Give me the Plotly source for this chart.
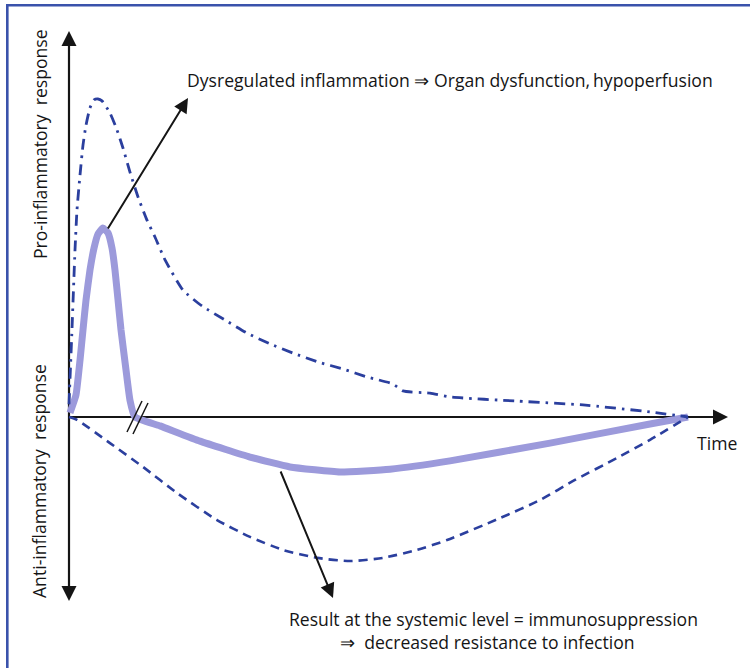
import plotly.graph_objects as go

# ---------------- data (time units: 0 = onset, 100 = resolution; response units: 0 = baseline) ----------------
# Pro-inflammatory response (dash-dot curve)
pro_time = [0.0, 0.48, 0.97, 1.29, 1.78, 2.26, 2.75, 3.39, 4.04, 4.68, 5.33, 6.62, 7.75, 8.72, 9.85,
            11.15, 12.60, 13.89, 15.51, 18.42, 21.49, 25.20, 28.76, 32.47, 36.19, 40.23, 44.26,
            48.14, 52.34, 53.96, 58.32, 61.55, 72.37, 83.04, 93.86, 100.0]
pro_resp = [4.0, 27.4, 52.5, 65.1, 76.1, 85.5, 91.8, 97.2, 99.7, 100.0, 99.4, 95.6, 90.3, 84.6, 77.0,
            69.2, 61.9, 56.6, 49.4, 39.9, 34.9, 30.5, 26.4, 23.0, 20.1, 17.3, 15.1,
            12.6, 10.4, 8.2, 7.5, 6.3, 5.0, 3.8, 1.6, 0.0]

# Net response (thick lavender curve)
net_time = [0.16, 1.13, 1.78, 2.26, 2.75, 3.39, 4.04, 4.68, 5.49, 6.30, 6.95, 7.43, 7.92, 8.40, 9.21,
            9.85, 10.66, 14.70, 21.16, 29.24, 35.70, 43.78, 51.86, 61.55, 77.71, 93.86, 100.0]
net_resp = [1.3, 6.9, 17.9, 27.4, 36.8, 46.2, 53.1, 57.5, 59.4, 57.9, 53.1, 46.2, 36.8, 27.4, 14.8,
            5.3, 0.0, -2.8, -7.6, -12.6, -15.7, -17.3, -16.4, -13.8, -8.2, -2.2, 0.0]

# Anti-inflammatory response (dashed curve)
anti_time = [0.0, 1.29, 6.62, 11.95, 17.45, 23.91, 29.24, 34.57, 40.06, 45.40, 50.73, 56.22, 61.07,
             69.63, 76.09, 81.74, 88.53, 93.86, 100.0]
anti_resp = [0.0, -0.9, -8.2, -15.7, -23.9, -32.4, -37.7, -41.8, -44.3, -45.3, -44.3, -41.8, -38.7,
             -31.8, -26.1, -19.8, -12.9, -7.2, 0.0]

# labels
label_pro = "Pro-inflammatory  response"
label_anti = "Anti-inflammatory  response"
label_time = "Time"
label_top = "Dysregulated inflammation \u21d2 Organ dysfunction,\u2009hypoperfusion"
label_bottom1 = "Result at the systemic level = immunosuppression"
label_bottom2 = "\u21d2  decreased resistance to infection"

# ---------------- layout helpers ----------------
W, H = 750, 668
X0_PX, X_SCALE = 69.0, 6.19      # pixel of t=0, px per time unit
Y0_PX, Y_SCALE = 417.0, 3.18     # pixel of r=0, px per response unit

def t_of(px):
    return (px - X0_PX) / X_SCALE

def r_of(py):
    return (Y0_PX - py) / Y_SCALE

def pxp(px):
    return px / W

def pyp(py):
    return 1 - py / H

DARK = "#2b3f9e"
LAV = "#9c9adb"
INK = "#151515"
FONT = "Open Sans"
FS = 17.6

fig = go.Figure()

fig.add_trace(go.Scatter(x=net_time, y=net_resp, mode="lines",
                         line=dict(color=LAV, width=7, shape="spline", smoothing=0.4),
                         hoverinfo="skip"))
fig.add_trace(go.Scatter(x=anti_time, y=anti_resp, mode="lines",
                         line=dict(color=DARK, width=2.6, dash="9px,6px", shape="spline", smoothing=0.6),
                         hoverinfo="skip"))
fig.add_trace(go.Scatter(x=pro_time, y=pro_resp, mode="lines",
                         line=dict(color=DARK, width=2.8, dash="11px,6px,2.5px,6px", shape="spline",
                                   smoothing=0.5),
                         hoverinfo="skip"))

shapes = [
    # frame
    dict(type="rect", xref="paper", yref="paper", x0=pxp(7.3), y0=pyp(700), x1=pxp(790), y1=pyp(5.3),
         line=dict(color="#3a52ab", width=2.6), fillcolor="rgba(0,0,0,0)", layer="below"),
    # axes
    dict(type="line", xref="x", yref="y", x0=0, y0=r_of(590), x1=0, y1=r_of(42),
         line=dict(color=INK, width=2.2), layer="below"),
    dict(type="line", xref="x", yref="y", x0=0, y0=0, x1=t_of(718), y1=0,
         line=dict(color=INK, width=2.2), layer="below"),
    # break marks
    dict(type="line", xref="x", yref="y", x0=t_of(127), y0=r_of(432), x1=t_of(142), y1=r_of(401),
         line=dict(color=INK, width=1.5), layer="above"),
    dict(type="line", xref="x", yref="y", x0=t_of(133), y0=r_of(434), x1=t_of(148), y1=r_of(403),
         line=dict(color=INK, width=1.5), layer="above"),
]

ann = []
def arrow(tip_px, tip_py, tail_px, tail_py, size=1.5, width=2):
    ann.append(dict(x=t_of(tip_px), y=r_of(tip_py), ax=t_of(tail_px), ay=r_of(tail_py),
                    xref="x", yref="y", axref="x", ayref="y", text="", showarrow=True,
                    arrowhead=2, arrowsize=size, arrowwidth=width, arrowcolor=INK,
                    standoff=0, startstandoff=0))

# axis arrowheads
arrow(69, 31, 69, 60)
arrow(69, 601, 69, 570)
arrow(728, 417, 700, 417)
# callout arrows
arrow(188, 98, 107, 230, size=1.45, width=2)
arrow(333, 598, 280, 470, size=1.45, width=2)

def text(s, px, py, size=FS, xanchor="center", angle=0):
    ann.append(dict(x=pxp(px), y=pyp(py), xref="paper", yref="paper", text=s, showarrow=False,
                    xanchor=xanchor, yanchor="middle", textangle=angle,
                    font=dict(family=FONT, size=size, color=INK)))

text(label_top, 185, 80, xanchor="left")
text(label_bottom1, 494, 619)
text(label_bottom2, 488, 642)
text(label_time, 717, 443)
text(label_pro, 40, 144, angle=-90)
text(label_anti, 39, 481, angle=-90)

fig.update_layout(
    width=W, height=H, margin=dict(l=0, r=0, t=0, b=0),
    paper_bgcolor="white", plot_bgcolor="white", showlegend=False,
    xaxis=dict(range=[t_of(0), t_of(W)], visible=False, fixedrange=True),
    yaxis=dict(range=[r_of(H), r_of(0)], visible=False, fixedrange=True),
    shapes=shapes, annotations=ann,
)

fig.write_html("out.html", config={"displayModeBar": False},
               post_script="document.body.style.margin='0';document.body.style.overflow='hidden';")
